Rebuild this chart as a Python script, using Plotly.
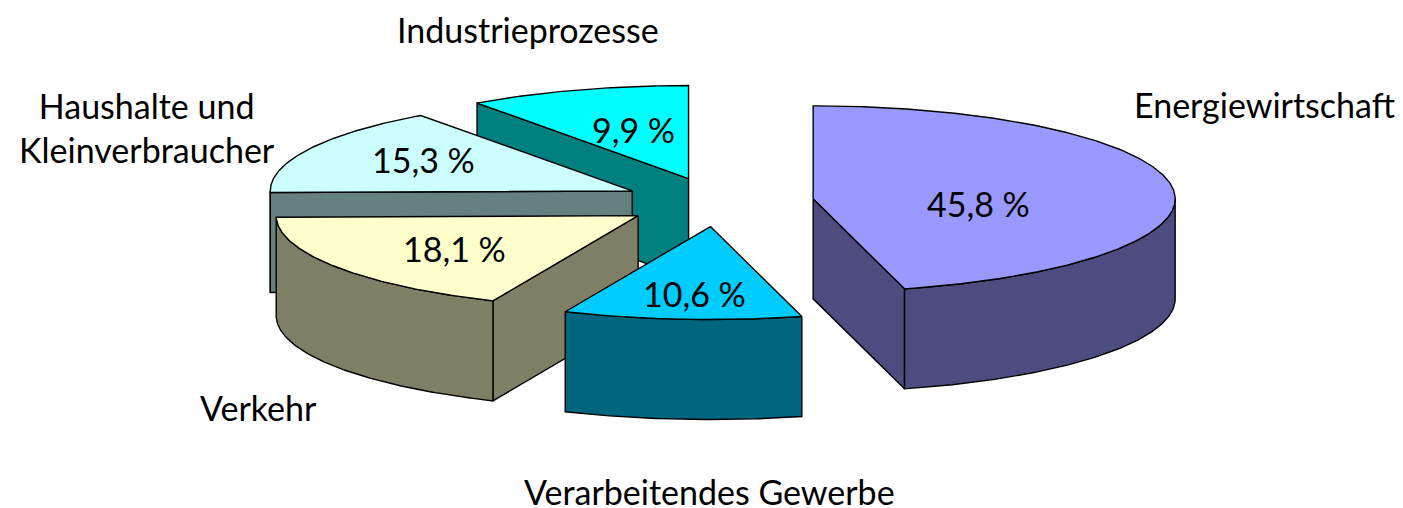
import numpy as np
import plotly.graph_objects as go

# ---- data ----
categories = ["Energiewirtschaft", "Verarbeitendes Gewerbe", "Verkehr",
              "Haushalte und<br>Kleinverbraucher", "Industrieprozesse"]
values = [45.8, 10.6, 18.1, 15.3, 9.9]
value_labels = ["45,8 %", "10,6 %", "18,1 %", "15,3 %", "9,9 %"]

# ---- style ----
top_colors = ["#9999FF", "#00CCFF", "#FFFFCC", "#CCFFFF", "#00FFFF"]
side_colors = ["#4C4C7F", "#00667F", "#7F7F66", "#667F7F", "#007F7F"]
# text positions (pixel space of the 1403x508 canvas)
value_label_xy = [(978, 203), (694, 293), (454, 248), (423, 159), (633, 129)]
cat_label_xy = [(1264, 104), (709, 491), (258, 407), (147, 127), (528, 29)]

W, H = 1403, 508
CX, CY = 718, 202       # pie centre
A, B = 362, 93          # ellipse semi-axes
DEPTH = 100             # pie thickness
EXPLODE = 0.265         # explosion (fraction of radius)
FONT = "Lato, Carlito, Calibri, 'Open Sans', sans-serif"
FS = 34


def pt(c, th, r=1.0):
    t = np.radians(th)
    return c[0] + r * A * np.sin(t), c[1] - r * B * np.cos(t)


def arc(c, t1, t2, dy=0.0):
    n = max(int(abs(t2 - t1) * 2) + 2, 3)
    ts = np.linspace(t1, t2, n)
    xs = [pt(c, t)[0] for t in ts]
    ys = [pt(c, t)[1] + dy for t in ts]
    return xs, ys


def poly(fig, xs, ys, color):
    xs = list(xs) + [xs[0]]
    ys = list(ys) + [ys[0]]
    fig.add_trace(go.Scatter(x=xs, y=ys, mode="lines", fill="toself",
                             fillcolor=color, line=dict(color="black", width=1.4),
                             hoverinfo="skip", showlegend=False))


total = sum(values)
slices = []
start = 0.0
for i, v in enumerate(values):
    t1 = start
    t2 = start + v / total * 360.0
    mid = (t1 + t2) / 2
    c = (CX + EXPLODE * A * np.sin(np.radians(mid)),
         CY - EXPLODE * B * np.cos(np.radians(mid)))
    slices.append(dict(i=i, t1=t1, t2=t2, mid=mid, c=c))
    start = t2

fig = go.Figure()

# back-to-front drawing
for s in sorted(slices, key=lambda s: s["c"][1]):
    i, t1, t2, c = s["i"], s["t1"], s["t2"], s["c"]
    side = side_colors[i]
    # radial faces
    for th, normal in ((t1, t1 - 90), (t2, t2 + 90)):
        if np.cos(np.radians(normal)) < -1e-6:
            rx, ry = pt(c, th)
            poly(fig, [c[0], rx, rx, c[0]], [c[1], ry, ry + DEPTH, c[1] + DEPTH], side)
    # curved outer face
    lo, hi = max(t1, 90.0), min(t2, 270.0)
    if lo < hi:
        xt, yt = arc(c, lo, hi)
        xb, yb = arc(c, hi, lo, DEPTH)
        poly(fig, xt + xb, yt + yb, side)
    # top face
    xa, ya = arc(c, t1, t2)
    poly(fig, [c[0]] + xa, [c[1]] + ya, top_colors[i])

annotations = []
for i in range(len(values)):
    x, y = value_label_xy[i]
    annotations.append(dict(x=x, y=y, xref="x", yref="y", text=value_labels[i],
                            showarrow=False, font=dict(family=FONT, size=FS, color="black"),
                            xanchor="center", yanchor="middle"))
    x, y = cat_label_xy[i]
    annotations.append(dict(x=x, y=y, xref="x", yref="y", text=categories[i],
                            showarrow=False, font=dict(family=FONT, size=FS, color="black"),
                            xanchor="center", yanchor="middle"))

fig.update_layout(
    width=W, height=H, margin=dict(l=0, r=0, t=0, b=0),
    paper_bgcolor="white", plot_bgcolor="white",
    xaxis=dict(range=[0, W], visible=False, fixedrange=True),
    yaxis=dict(range=[H, 0], visible=False, fixedrange=True),
    annotations=annotations,
)

fig.write_html("out.html", config={"displayModeBar": False},
               post_script="document.body.style.margin='0';document.body.style.overflow='hidden';")
